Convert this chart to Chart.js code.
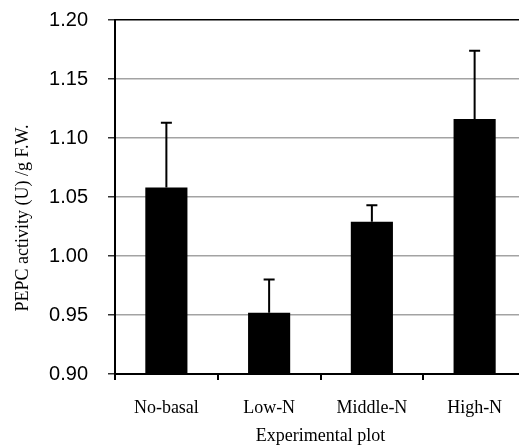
<!DOCTYPE html>
<html>
<head>
<meta charset="utf-8">
<script src="https://cdn.jsdelivr.net/npm/chart.js@4"></script>
<style>
    body { margin: 0; overflow: hidden; background: #fff; }
    #wrap { width: 519px; height: 445px; overflow: hidden; }
</style>
</head>
<body>
<div id="wrap"><canvas id="pepc-chart" width="530" height="445"></canvas></div>
<script>
// PEPC activity per plot
const plots = ['No-basal', 'Low-N', 'Middle-N', 'High-N'];
const pepcMeans = [1.058, 0.952, 1.029, 1.116];
const pepcErrors = [0.055, 0.028, 0.014, 0.058];
const yTicks = [0.90, 0.95, 1.00, 1.05, 1.10, 1.15, 1.20];

const yTitle = 'PEPC activity (U) /g F.W.';
const xTitle = 'Experimental plot';

// upper error whiskers, drawn from the bar tops
const errorBars = {
    id: 'errorBars',
    afterDatasetsDraw(chart) {
        const y = chart.scales.y;
        const meta = chart.getDatasetMeta(0);
        const c = chart.ctx;
        c.save();
        c.strokeStyle = '#000';
        c.lineWidth = 2;
        meta.data.forEach((bar, i) => {
            const top = y.getPixelForValue(pepcMeans[i] + pepcErrors[i]);
            c.beginPath();
            c.moveTo(bar.x, bar.y);
            c.lineTo(bar.x, top);
            c.moveTo(bar.x - 5.5, top);
            c.lineTo(bar.x + 5.5, top);
            c.stroke();
        });
        c.restore();
    }
};

// y title sits a little below the plot centre in the original
const yTitlePlugin = {
    id: 'yTitle',
    afterDraw(chart) {
        const c = chart.ctx;
        c.save();
        c.translate(28, 218);
        c.rotate(-Math.PI / 2);
        c.font = '18px "Liberation Serif", "Times New Roman", serif';
        c.fillStyle = '#000';
        c.textAlign = 'center';
        c.textBaseline = 'alphabetic';
        c.fillText(yTitle, 0, 0);
        c.restore();
    }
};

new Chart(document.getElementById('pepc-chart').getContext('2d'), {
    type: 'bar',
    data: {
        labels: plots,
        datasets: [{
            data: pepcMeans,
            backgroundColor: '#000',
            borderWidth: 0,
            categoryPercentage: 1,
            barPercentage: 0.41
        }]
    },
    options: {
        responsive: false,
        animation: false,
        layout: { padding: { top: 20, right: 4, left: 0, bottom: 0 } },
        plugins: { legend: { display: false }, tooltip: { enabled: false } },
        scales: {
            x: {
                afterFit(scale) { scale.height = 71; },
                grid: { drawOnChartArea: false, tickLength: 6, tickColor: '#000', lineWidth: 2 },
                border: { color: '#000', width: 2 },
                ticks: {
                    padding: 17,
                    color: '#000',
                    font: { family: '"Liberation Serif", "Times New Roman", serif', size: 18 }
                },
                title: {
                    display: true,
                    text: xTitle,
                    color: '#000',
                    padding: { top: 0, bottom: 0 },
                    font: { family: '"Liberation Serif", "Times New Roman", serif', size: 18, lineHeight: 1 }
                }
            },
            y: {
                min: 0.9,
                max: 1.2,
                afterFit(scale) {
                    scale.width = 115;
                    scale.paddingTop = 0;
                    scale.paddingBottom = 0;
                },
                afterBuildTicks(scale) { scale.ticks = yTicks.map(v => ({ value: v })); },
                grid: {
                    color: ctx => (ctx.tick && Math.abs(ctx.tick.value - 1.2) < 1e-9 ? '#000' : '#a3a3a3'),
                    lineWidth: 1.5,
                    tickLength: 7,
                    tickColor: '#333'
                },
                border: { color: '#000', width: 2 },
                ticks: {
                    padding: 20,
                    color: '#000',
                    font: { family: '"Liberation Sans", Arial, sans-serif', size: 20 },
                    callback: v => Number(v).toFixed(2)
                }
            }
        }
    },
    plugins: [errorBars, yTitlePlugin]
});
</script>
</body>
</html>
